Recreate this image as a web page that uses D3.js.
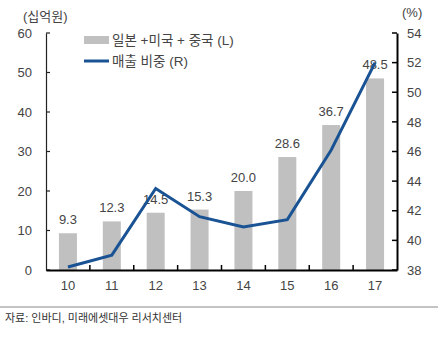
<!DOCTYPE html>
<html><head><meta charset="utf-8">
<script src="https://cdn.jsdelivr.net/npm/d3@7"></script>
<style>
body{margin:0;background:#fff;}
text{font-family:"Liberation Sans","Noto Sans CJK KR",sans-serif;}
</style></head>
<body>
<svg id="c" width="448" height="337"></svg>
<script>
const categories = ["10","11","12","13","14","15","16","17"];
const barValues = [9.3,12.3,14.5,15.3,20.0,28.6,36.7,48.5];
const lineValues = [38.2,39.0,43.5,41.6,40.9,41.4,46.1,52.0];
const leftTicks = [0,10,20,30,40,50,60];
const rightTicks = [38,40,42,44,46,48,50,52,54];
const barLabel = "일본 +미국 + 중국 (L)";
const lineLabel = "매출 비중 (R)";
const leftUnit = "(십억원)";
const rightUnit = "(%)";
const source = "자료: 인바디, 미래에셋대우 리서치센터";

const svg = d3.select("#c");
const m = {l:46, r:397, t:33, b:270};
const x = d3.scaleBand().domain(categories).range([m.l, m.r]).paddingInner(0).paddingOuter(0);
const yL = d3.scaleLinear().domain([0,60]).range([m.b, m.t]);
const yR = d3.scaleLinear().domain([38,54]).range([m.b, m.t]);
const barW = 18;
const txt = "#444";

// bars
svg.append("g").selectAll("rect").data(barValues).join("rect")
  .attr("x",(d,i)=>x(categories[i])+x.bandwidth()/2-barW/2)
  .attr("y",d=>yL(d)).attr("width",barW).attr("height",d=>yL(0)-yL(d))
  .attr("fill","#c0c0c0");

// bar labels
svg.append("g").selectAll("text").data(barValues).join("text")
  .attr("x",(d,i)=>x(categories[i])+x.bandwidth()/2)
  .attr("y",d=>yL(d)-9).attr("text-anchor","middle")
  .attr("font-size",13).attr("fill",txt).text(d=>d.toFixed(1));

// line
const line = d3.line().x((d,i)=>x(categories[i])+x.bandwidth()/2).y(d=>yR(d));
svg.append("path").datum(lineValues).attr("d",line)
  .attr("fill","none").attr("stroke","#1a5394").attr("stroke-width",3).attr("stroke-linejoin","miter");

// left axis
const gL = svg.append("g").attr("transform",`translate(${m.l},0)`)
  .call(d3.axisLeft(yL).tickValues(leftTicks).tickSize(0).tickPadding(14));
gL.select(".domain").attr("stroke","#222").attr("stroke-width",1.2);
gL.selectAll("text").attr("font-size",13).attr("fill",txt).attr("font-family",null);
svg.append("g").selectAll("line").data(leftTicks).join("line")
  .attr("x1",m.l).attr("x2",m.l+4).attr("y1",d=>yL(d)).attr("y2",d=>yL(d))
  .attr("stroke","#222").attr("stroke-width",1.2);

// right axis
const gR = svg.append("g").attr("transform",`translate(${m.r},0)`)
  .call(d3.axisRight(yR).tickValues(rightTicks).tickSize(0).tickPadding(10));
gR.select(".domain").attr("stroke","#000").attr("stroke-width",2);
gR.selectAll("text").attr("font-size",13).attr("fill",txt).attr("font-family",null);
svg.append("g").selectAll("line").data(rightTicks).join("line")
  .attr("x1",m.r-5).attr("x2",m.r).attr("y1",d=>yR(d)).attr("y2",d=>yR(d))
  .attr("stroke","#000").attr("stroke-width",1.5);

// bottom axis
const gB = svg.append("g").attr("transform",`translate(0,${m.b})`)
  .call(d3.axisBottom(x).tickSize(0).tickPadding(11));
gB.select(".domain").attr("stroke","#000").attr("stroke-width",2);
gB.selectAll("text").attr("font-size",13).attr("fill",txt).attr("font-family",null);
svg.append("g").selectAll("line").data(categories.slice(1)).join("line")
  .attr("x1",d=>x(d)).attr("x2",d=>x(d)).attr("y1",m.b-5).attr("y2",m.b)
  .attr("stroke","#000").attr("stroke-width",1.5);

// units
svg.append("text").attr("x",23).attr("y",21).attr("font-size",13).attr("fill",txt).text(leftUnit);
svg.append("text").attr("x",402).attr("y",17).attr("font-size",13).attr("fill",txt).text(rightUnit);

// legend
svg.append("rect").attr("x",84).attr("y",36).attr("width",25).attr("height",8).attr("fill","#c0c0c0");
svg.append("text").attr("x",112).attr("y",45).attr("font-size",13.5).attr("fill",txt).text(barLabel);
svg.append("line").attr("x1",84).attr("x2",109).attr("y1",61).attr("y2",61).attr("stroke","#1a5394").attr("stroke-width",3);
svg.append("text").attr("x",112).attr("y",66).attr("font-size",13.5).attr("fill",txt).text(lineLabel);

// footer
svg.append("line").attr("x1",0).attr("x2",438).attr("y1",307).attr("y2",307).attr("stroke","#888").attr("stroke-width",1);
svg.append("text").attr("x",5).attr("y",322).attr("font-size",11).attr("fill","#333").text(source);
</script>
</body></html>
